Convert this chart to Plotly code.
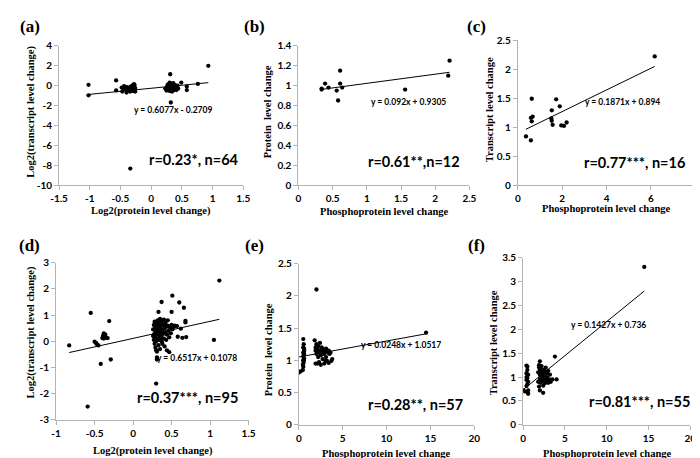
import plotly.graph_objects as go

W, H = 700, 458

# ---------------- data ----------------
a_x = [-1.02, -1.02, -0.57, -0.57, -0.48, -0.47, -0.44, -0.42, -0.40, -0.39, -0.37, -0.36, -0.34, -0.34,
       -0.33, -0.32, -0.31, -0.30, -0.29, -0.28, -0.28, -0.27, -0.27, -0.26, -0.26, -0.45,
       0.23, 0.25, 0.26, 0.27, 0.27, 0.28, 0.29, 0.29, 0.30, 0.30, 0.31, 0.31, 0.32, 0.32, 0.33, 0.33,
       0.34, 0.35, 0.35, 0.36, 0.37, 0.37, 0.38, 0.39, 0.40, 0.41, 0.42, 0.43, 0.44, 0.49, 0.58, 0.58,
       0.76, 0.93, 0.36, 0.39, 0.31, 0.34]
a_y = [0.08, -0.98, 0.52, -0.49, -0.20, -0.60, -0.05, -0.35, -0.70, -0.15, -0.45, -0.25, -8.35, -0.60,
       -0.10, -0.40, 0.00, -0.30, -0.55, 0.15, -0.15, -0.40, 0.05, -0.25, -0.60, -0.30,
       -0.30, -0.50, -0.10, 0.10, -0.35, -0.20, 0.00, -0.50, 0.30, -0.15, 1.14, -0.30, -1.70, 0.05, -0.45, 0.20,
       -0.10, -0.30, 0.10, -0.50, 0.00, -0.20, -0.35, 0.05, -0.15, -0.45, -0.25, 0.00, -0.30, 0.30, -0.10, -0.45,
       0.17, 1.99, 0.25, -0.30, -0.55, -0.60]
a_fit = (0.6077, -0.2709)

b_x = [0.34, 0.34, 0.39, 0.44, 0.56, 0.58, 0.61, 0.61, 0.64, 1.56, 2.19, 2.21]
b_y = [0.96, 0.97, 1.02, 0.98, 0.95, 0.85, 1.15, 1.02, 0.98, 0.96, 1.10, 1.25]
b_fit = (0.092, 0.9305)

c_x = [0.37, 0.59, 0.63, 0.59, 0.63, 0.67, 1.53, 1.51, 1.53, 1.57, 1.73, 1.89, 1.96, 2.08, 2.20, 6.17]
c_y = [0.84, 0.77, 1.49, 1.16, 1.10, 1.18, 1.29, 1.15, 1.11, 1.04, 1.48, 1.36, 1.03, 1.02, 1.08, 2.22]
c_fit = (0.1871, 0.894)

d_x = [-0.83, -0.55, -0.59, -0.50, -0.48, -0.47, -0.45, -0.42, -0.40, -0.39, -0.38, -0.38, -0.37, -0.36,
       -0.35, -0.33, -0.31, -0.29,
       0.30, 0.37, 0.51, 0.60, 0.33, 0.50, 0.66, 0.68, 0.68, 0.54, 0.57, 0.62, 0.58, 0.64, 0.69, 1.05, 1.12,
       0.30, 0.31, 0.31,
       0.26, 0.26, 0.27, 0.27, 0.28, 0.28, 0.28, 0.29, 0.29, 0.29, 0.30, 0.30, 0.30, 0.31, 0.31, 0.31, 0.32,
       0.32, 0.32, 0.33, 0.33, 0.33, 0.34, 0.34, 0.34, 0.35, 0.35, 0.35, 0.36, 0.36, 0.37, 0.37, 0.37, 0.38,
       0.38, 0.39, 0.39, 0.40, 0.40, 0.41, 0.41, 0.42, 0.42, 0.43, 0.43, 0.44, 0.44, 0.45, 0.45, 0.46, 0.47,
       0.47, 0.48, 0.49, 0.50, 0.51, 0.53]
d_y = [-0.16, 1.08, -2.50, -0.02, -0.07, -0.12, -0.16, -0.87, 0.12, 0.20, 0.30, 0.10, 0.17, 0.25,
       0.13, 0.12, 0.77, -0.70,
       -1.62, 1.50, 1.74, 1.48, 1.12, 1.12, 1.28, 0.78, 0.72, 0.60, 0.58, 0.48, 0.17, 0.13, 0.16, 0.05, 2.32,
       -0.35, -0.62, -0.70,
       0.20, 0.45, 0.05, 0.62, 0.30, -0.10, 0.75, 0.15, 0.50, -0.25, 0.38, 0.00, 0.68, 0.25, 0.55, -0.40, 0.10,
       0.80, 0.42, -0.15, 0.30, 0.60, 0.05, 0.70, 0.48, 0.20, -0.30, 0.85, 0.35, 0.58, 0.00, 0.15, 0.75, 0.45,
       -0.10, 0.28, 0.62, 0.10, 0.82, 0.50, -0.20, 0.35, 0.70, 0.05, 0.55, 0.25, -0.35, 0.60, 0.80, 0.40, 0.15,
       -0.42, 0.52, 0.30, 0.62, 0.45, 0.55]
d_fit = (0.6517, 0.1078)

e_x = [0.0, 0.2, 0.45, 0.5, 0.5, 0.55, 0.5, 0.6, 0.5, 0.55, 0.5, 0.6, 0.5, 0.55, 0.5, 0.45, 0.55, 0.6, 0.6,
       1.8, 1.9, 1.9, 2.0, 2.0, 2.0, 2.1, 2.1, 2.2, 2.2, 2.3, 2.3, 2.4, 2.4, 2.5, 2.5, 2.6, 2.7, 2.7, 2.8,
       2.9, 2.9, 3.0, 3.1, 3.1, 3.2, 3.3, 3.4, 3.5, 3.6, 3.7, 3.8, 1.9, 2.2, 2.6, 3.0, 3.4, 14.5]
e_y = [0.81, 0.83, 0.85, 0.90, 0.95, 0.98, 1.00, 1.03, 1.06, 1.09, 1.12, 1.15, 1.20, 1.25, 1.33, 0.93, 1.01, 1.10, 1.18,
       1.31, 1.20, 1.15, 1.10, 1.25, 2.10, 0.95, 1.18, 1.05, 1.22, 0.97, 1.12, 1.15, 1.27, 0.93, 1.08, 1.20, 1.13, 1.02, 1.17,
       0.95, 1.10, 1.15, 1.05, 1.18, 0.99, 1.12, 0.96, 1.10, 1.12, 0.99, 1.02, 0.95, 1.15, 1.15, 1.00, 1.15, 1.43]
e_fit = (0.0248, 1.0517)

f_x = [0.0, 0.2, 0.4, 0.5, 0.5, 0.4, 0.6, 0.5, 0.4, 0.6, 0.5, 0.4, 0.6, 0.5, 0.6, 0.4,
       1.8, 1.9, 1.9, 2.0, 2.0, 2.0, 1.9, 2.0, 2.0, 2.1, 2.1, 2.2, 2.2, 2.3, 2.3, 2.4, 2.4, 2.5, 2.5, 2.6,
       2.6, 2.7, 2.8, 2.8, 2.9, 3.0, 3.0, 3.1, 3.2, 3.3, 3.5, 4.0, 2.1, 2.4, 2.2, 1.8, 3.8, 14.5, 2.7]
f_y = [0.72, 0.70, 1.24, 1.22, 1.15, 1.08, 1.05, 0.98, 0.94, 0.90, 0.85, 0.81, 0.72, 0.68, 0.65, 1.00,
       1.10, 1.20, 1.25, 1.33, 1.15, 1.05, 0.80, 0.72, 0.95, 1.00, 0.88, 1.12, 0.98, 1.08, 0.92, 0.67, 1.02, 1.15, 0.95, 1.10,
       0.87, 1.02, 0.93, 1.08, 0.98, 1.13, 0.88, 0.95, 1.05, 0.90, 0.95, 0.95, 1.18, 0.82, 1.23, 0.90, 1.43, 3.31, 1.20]
f_fit = (0.1427, 0.736)

ticks_a_x = [-1.5, -1, -0.5, 0, 0.5, 1, 1.5]
ticks_a_y = [-10, -8, -6, -4, -2, 0, 2, 4]
ticks_b_x = [0, 0.5, 1, 1.5, 2, 2.5]
ticks_b_y = [0, 0.2, 0.4, 0.6, 0.8, 1, 1.2, 1.4]
ticks_c_x = [0, 2, 4, 6, 8]
ticks_c_y = [0, 0.5, 1, 1.5, 2, 2.5]
ticks_d_x = [-1, -0.5, 0, 0.5, 1, 1.5]
ticks_d_y = [-3, -2, -1, 0, 1, 2, 3]
ticks_e_x = [0, 5, 10, 15, 20]
ticks_e_y = [0, 0.5, 1, 1.5, 2, 2.5]
ticks_f_x = [0, 5, 10, 15, 20]
ticks_f_y = [0, 0.5, 1, 1.5, 2, 2.5, 3, 3.5]

panel_labels = ["(a)", "(b)", "(c)", "(d)", "(e)", "(f)"]
x_titles = ["Log2(protein level change)", "Phosphoprotein level change", "Phosphoprotein level change",
            "Log2(protein level change)", "Phosphoprotein level change", "Phosphoprotein level change"]
y_titles = ["Log2(transcript level change)", "Protein  level change", "Transcript level change",
            "Log2(transcript level change)", "Protein  level change", "Transcript level change"]
equations = ["y = 0.6077x - 0.2709", "y = 0.092x + 0.9305", "y = 0.1871x + 0.894",
             "y = 0.6517x + 0.1078", "y = 0.0248x + 1.0517", "y = 0.1427x + 0.736"]
stats = ["r=0.23*, n=64", "r=0.61**,n=12", "r=0.77***, n=16",
         "r=0.37***, n=95", "r=0.28**, n=57", "r=0.81***, n=55"]

# ---------------- layout (pixel geometry) ----------------
boxes = [(43, 231.6, 31.7, 175), (288, 463, 31.7, 175), (512.5, 694.2, 26, 175),
         (40, 237, 255, 416.5), (288.5, 468, 256, 421.7), (518, 689, 250, 421.7)]
ranges = [((-1.5, 1.5), (-10, 4)), ((0, 2.5), (0, 1.4)), ((0, 8), (0, 2.5)),
          ((-1, 1.5), (-3, 3)), ((0, 20), (0, 2.5)), ((0, 20), (0, 3.5))]
label_pos = [(13, 12), (243, 12), (470, 12), (13, 237), (243, 237), (470, 237)]
xtitle_pos = [(137, 202), (376, 202), (603, 199), (139, 449), (378, 451), (604, 451)]
ytitle_pos = [(14, 100), (256, 100), (483, 97), (14, 327), (257, 345), (488, 337)]
eq_pos = [(160, 98), (401, 90), (620, 89.5), (184, 353), (393, 340), (605, 319)]
stat_pos = [(181, 149), (406, 151), (632, 152), (174, 394), (408, 401), (637, 398)]

xs = [a_x, b_x, c_x, d_x, e_x, f_x]
ys = [a_y, b_y, c_y, d_y, e_y, f_y]
fits = [a_fit, b_fit, c_fit, d_fit, e_fit, f_fit]
tx = [ticks_a_x, ticks_b_x, ticks_c_x, ticks_d_x, ticks_e_x, ticks_f_x]
ty = [ticks_a_y, ticks_b_y, ticks_c_y, ticks_d_y, ticks_e_y, ticks_f_y]


def px(x):
    return x / W


def py(y):
    return 1 - y / H


def fmt(v):
    return "%g" % v


fig = go.Figure()
serif = "Liberation Serif"
sans = "Lato"
axis_col = "#b3b3b3"

layout = dict(width=W, height=H, margin=dict(l=0, r=0, t=0, b=0), showlegend=False,
              paper_bgcolor="white", plot_bgcolor="white")
annotations = []

for i in range(6):
    k = "" if i == 0 else str(i + 1)
    L, R, T, B = boxes[i]
    (xr, yr) = ranges[i]
    fig.add_trace(go.Scatter(x=xs[i], y=ys[i], mode="markers", xaxis="x" + k, yaxis="y" + k,
                             marker=dict(color="black", size=4.3), hoverinfo="skip"))
    m, c = fits[i]
    x0, x1 = min(xs[i]), max(xs[i])
    fig.add_trace(go.Scatter(x=[x0, x1], y=[m * x0 + c, m * x1 + c], mode="lines",
                             xaxis="x" + k, yaxis="y" + k,
                             line=dict(color="black", width=1), hoverinfo="skip"))
    common = dict(showgrid=False, zeroline=False, showline=True, linecolor=axis_col, linewidth=1,
                  ticks="outside", ticklen=4, tickcolor=axis_col,
                  tickfont=dict(family=sans, size=10, color="black", weight="bold"))
    layout["xaxis" + k] = dict(domain=[px(L), px(R)], range=list(xr), anchor="y" + k,
                               tickvals=tx[i], ticktext=[fmt(v) for v in tx[i]], **common)
    layout["yaxis" + k] = dict(domain=[py(B), py(T)], range=list(yr), anchor="x" + k,
                               tickvals=ty[i], ticktext=[fmt(v) for v in ty[i]], **common)

    annotations.append(dict(text=panel_labels[i], x=px(label_pos[i][0]), y=py(label_pos[i][1]),
                            xref="paper", yref="paper", showarrow=False, xanchor="center", yanchor="middle",
                            font=dict(family=serif, size=17, color="black", weight="bold")))
    annotations.append(dict(text=x_titles[i], x=px(xtitle_pos[i][0]), y=py(xtitle_pos[i][1]),
                            xref="paper", yref="paper", showarrow=False, xanchor="center", yanchor="middle",
                            font=dict(family=serif, size=10.5, color="black", weight="bold")))
    annotations.append(dict(text=y_titles[i], x=px(ytitle_pos[i][0]), y=py(ytitle_pos[i][1]),
                            xref="paper", yref="paper", showarrow=False, xanchor="center", yanchor="middle",
                            textangle=-90,
                            font=dict(family=serif, size=10.5, color="black", weight="bold")))
    annotations.append(dict(text=equations[i], x=px(eq_pos[i][0]), y=py(eq_pos[i][1]),
                            xref="paper", yref="paper", showarrow=False, xanchor="center", yanchor="middle",
                            font=dict(family=sans, size=8.5, color="black", weight="bold")))
    annotations.append(dict(text=stats[i], x=px(stat_pos[i][0]), y=py(stat_pos[i][1]),
                            xref="paper", yref="paper", showarrow=False, xanchor="center", yanchor="middle",
                            font=dict(family=sans, size=14.5, color="black", weight="bold")))

layout["annotations"] = annotations
fig.update_layout(**layout)
fig.write_html("out.html")
